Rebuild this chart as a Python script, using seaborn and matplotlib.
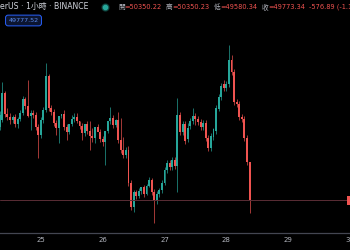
import numpy as np
import pandas as pd
import matplotlib
matplotlib.use("Agg")
import matplotlib.pyplot as plt
import seaborn as sns
from matplotlib.patches import Rectangle
from matplotlib.lines import Line2D

# ---- data (hourly candles, hour index relative to 25th 00:00) ----
hours = list(range(-16, 82))
open_ = [50868, 50973, 51378, 51063, 51018, 50973, 51018, 50913, 50988, 51078,
         51288, 51183, 51033, 51078, 51048, 50868, 50748, 50973, 51123, 51633,
         51153, 51093, 50928, 50853, 51033, 51063, 50868, 50793, 50913, 50988,
         51018, 50958, 50883, 50778, 50913, 50808, 50733, 50703, 50868, 50793,
         50688, 50643, 50808, 50958, 51003, 50898, 50973, 50673, 50523, 50448,
         50523, 50028, 49668, 49893, 49833, 49908, 49968, 49863, 49983, 50073,
         49893, 49758, 49863, 49923, 50028, 50223, 50328, 50268, 50373, 50283,
         51048, 50793, 50913, 50688, 50883, 50958, 51033, 50988, 50943, 50868,
         50928, 50703, 50553, 50718, 50808, 51138, 51318, 51513, 51453, 51513,
         51873, 51693, 51243, 51213, 51018, 50988, 50703, 50350]
close = [51048, 51378, 51063, 51018, 50973, 51018, 50913, 50988, 51078, 51288,
         51183, 51033, 51078, 51048, 50868, 50748, 50973, 51123, 51633, 51153,
         51093, 50928, 50853, 51033, 51063, 50868, 50793, 50913, 50988, 51018,
         50958, 50883, 50778, 50913, 50808, 50733, 50703, 50868, 50793, 50688,
         50643, 50808, 50958, 51003, 50898, 50973, 50673, 50523, 50448, 50523,
         50028, 49668, 49893, 49833, 49908, 49968, 49863, 49983, 50073, 49893,
         49758, 49863, 49923, 50028, 50223, 50328, 50268, 50373, 50283, 51048,
         50793, 50913, 50658, 50853, 50958, 51033, 50988, 50943, 50868, 50928,
         50703, 50553, 50733, 50838, 51153, 51318, 51483, 51453, 51513, 51873,
         51693, 51243, 51213, 51018, 50988, 50703, 50343, 49773]
high = [51108, 51543, 51408, 51153, 51078, 51048, 51063, 51018, 51123, 51333,
        51318, 51573, 51123, 51123, 51093, 50913, 51018, 51168, 51828, 51663,
        51198, 51138, 50973, 50883, 51063, 51123, 50913, 50838, 51048, 51078,
        51078, 50958, 50928, 50838, 50958, 50958, 50853, 50793, 50913, 50838,
        50733, 50688, 50853, 51168, 51048, 50988, 51093, 51003, 50718, 50568,
        50583, 50073, 49923, 49923, 49953, 49968, 49998, 50013, 50118, 50103,
        49938, 49908, 49953, 50073, 50268, 50373, 50373, 50418, 50418, 51303,
        51093, 50958, 50958, 50928, 51003, 51153, 51078, 51033, 50988, 50973,
        50973, 50748, 50778, 50853, 51198, 51363, 51528, 51573, 51558, 52098,
        51948, 51738, 51288, 51258, 51063, 51033, 50748, 50350]
low = [50823, 50943, 51018, 50973, 50913, 50928, 50868, 50853, 50958, 51048,
       51138, 51018, 50823, 51003, 50823, 50403, 50703, 50928, 51093, 51108,
       51048, 50883, 50748, 50628, 51003, 50823, 50673, 50763, 50883, 50943,
       50928, 50838, 50673, 50733, 50763, 50523, 50643, 50628, 50808, 50643,
       50583, 50298, 50778, 50913, 50853, 50868, 50628, 50478, 50403, 50403,
       49983, 49623, 49593, 49788, 49803, 49863, 49818, 49848, 49968, 49848,
       49428, 49713, 49818, 49878, 49998, 50178, 50223, 50223, 50238, 49893,
       50748, 50748, 50613, 50643, 50838, 50913, 50898, 50898, 50823, 50823,
       50658, 50508, 50508, 50673, 50763, 51108, 51273, 51408, 51408, 51468,
       51648, 51198, 51168, 50973, 50943, 50658, 50298, 49580]
day_ticks = [0, 24, 48, 72, 96, 120]
day_labels = ["25", "26", "27", "28", "29", "30"]
last_price = 49773.34
price_tag = "49777.52"
symbol_text = "erUS · 1小時 · BINANCE"
ohlc_parts = [("開", "=50350.22"), ("高", "=50350.23"),
              ("低", "=49580.34"), ("收", "=49773.34")]
change_text = "-576.89 (-1.15%)"

# ---- style ----
sns.set_theme(style="dark", rc={"axes.facecolor": "black",
                                "figure.facecolor": "black"})
plt.rcParams["font.family"] = ["DejaVu Sans", "Noto Sans CJK TC"]

UP = "#26a69a"
DOWN = "#ef5350"
TXT = "#d1d4dc"
AX = "#b2b5be"

W, H = 350, 250
fig = plt.figure(figsize=(3.5, 2.5), dpi=100, facecolor="black")
ax = fig.add_axes([0, 17 / H, 1, 233 / H])
ax.set_facecolor("black")

df = pd.DataFrame({"hour": hours, "open": open_, "high": high,
                   "low": low, "close": close})
df["dir"] = np.where(df["close"] >= df["open"], "up", "down")
cols = df["dir"].map({"up": UP, "down": DOWN})

# wicks
ax.vlines(df["hour"], df["low"], df["high"], colors=cols, lw=0.6, alpha=0.8)
# bodies
bottom = np.minimum(df["open"], df["close"])
height = np.maximum((df["close"] - df["open"]).abs(), 12)
ax.bar(df["hour"], height, bottom=bottom, width=0.75, color=cols, lw=0)

# last price line
ax.axhline(last_price, color="#5a2d35", lw=0.7)

ax.set_xlim(-41 / 2.583, (W - 41) / 2.583)
ax.set_ylim(52773 - 15 * 233, 52773)
ax.set_xticks(day_ticks)
ax.set_xticklabels(day_labels)
ax.set_yticks([])
ax.tick_params(axis="x", length=0, pad=3, labelsize=5, colors=AX)
for s in ["top", "left", "right"]:
    ax.spines[s].set_visible(False)
ax.spines["bottom"].set_color("#434651")
ax.spines["bottom"].set_linewidth(0.9)
ax.grid(False)


def fx(px):
    return px / W


def fy(py):
    return 1 - py / H


renderer = fig.canvas.get_renderer()


def put(x, text, color, size=5.2, y=7):
    t = fig.text(fx(x), fy(y), text, color=color, fontsize=size,
                 ha="left", va="center")
    bb = t.get_window_extent(renderer=renderer)
    return bb.x1


put(0, symbol_text, TXT, size=5.6)
# live dot
fig.add_artist(Line2D([fx(105)], [fy(7)], marker="o", ms=5, color=UP,
                      alpha=0.3, transform=fig.transFigure, lw=0))
fig.add_artist(Line2D([fx(105)], [fy(7)], marker="o", ms=3, color=UP,
                      transform=fig.transFigure, lw=0))

x = 118
for lab, val in ohlc_parts:
    x = put(x, lab, AX, size=4.8)
    x = put(x, val, DOWN, size=4.8) + 4
put(x, change_text, DOWN, size=4.8)

# price tag
fig.text(fx(23.5), fy(20.5), price_tag, color="#5b8def", fontsize=4.6,
         ha="center", va="center",
         bbox=dict(boxstyle="round,pad=0.45,rounding_size=0.4",
                   fc="#0c1530", ec="#2962ff", lw=0.7))

# right axis price tag (cut off)
fig.add_artist(Rectangle((fx(347), fy(205)), 5 / W, 9 / H, color=DOWN,
                         transform=fig.transFigure, lw=0))

fig.savefig("out.png", dpi=100, facecolor="black")
